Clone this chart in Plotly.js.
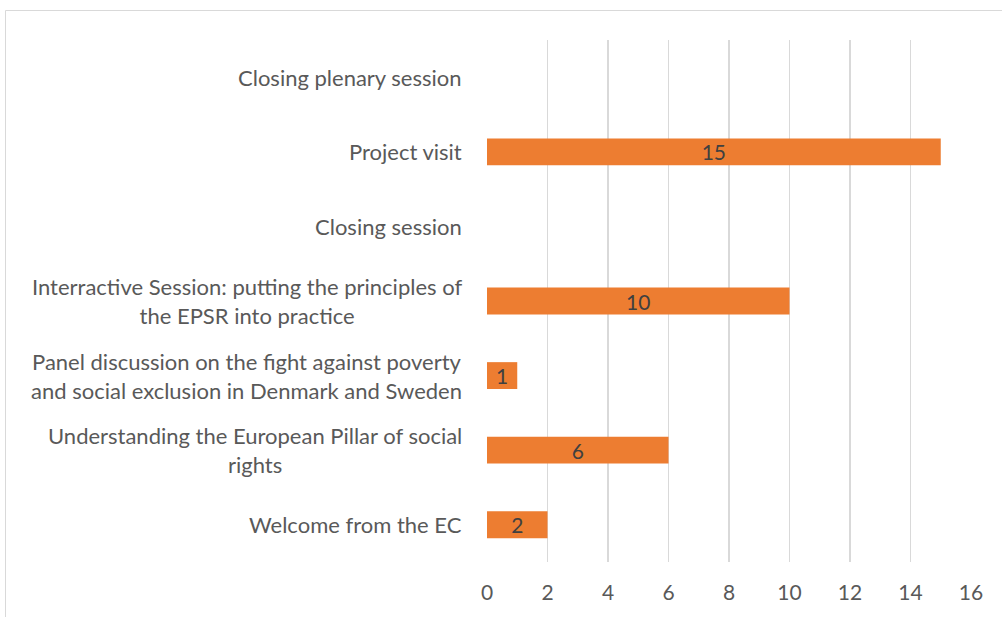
<!DOCTYPE html>
<html>
<head>
<meta charset="utf-8">
<script src="https://cdn.plot.ly/plotly-3.0.1.min.js"></script>
<style>html,body{margin:0;padding:0;background:#fff;}#chart{width:1002px;height:617px;}</style>
</head>
<body>
<div id="chart"></div>
<script>
const categories = [
  "Welcome from the EC",
  "Understanding the European Pillar of social<br>rights",
  "Panel discussion on the fight against poverty<br>and social exclusion in Denmark and Sweden",
  "Interractive Session: putting the principles of<br>the EPSR into practice",
  "Closing session",
  "Project visit",
  "Closing plenary session"
];
const values = [2, 6, 1, 10, null, 15, null];
const xTicks = [0, 2, 4, 6, 8, 10, 12, 14, 16];

const FONT = "Lato, 'Open Sans', sans-serif";
const trace = {
  type: "bar",
  orientation: "h",
  x: values,
  y: categories,
  marker: {color: "#ED7D31"},
  text: values.map(v => v === null ? "" : String(v)),
  textposition: "inside",
  insidetextanchor: "middle",
  textangle: 0,
  constraintext: "none",
  textfont: {family: FONT, size: 21, color: "#404040"},
  hoverinfo: "none"
};

const annotations = categories.map(c => ({
  xref: "paper", yref: "y", x: 0, y: c, xshift: -23,
  xanchor: "right", yanchor: "middle", align: "center",
  text: c, showarrow: false,
  font: {family: FONT, size: 22, color: "#595959"}
}));

const layout = {
  width: 1002, height: 617,
  margin: {l: 487, r: 31, t: 40, b: 55},
  paper_bgcolor: "#ffffff", plot_bgcolor: "#ffffff",
  showlegend: false,
  bargap: 0.64,
  xaxis: {
    range: [0, 16], tickvals: xTicks, ticktext: xTicks.map(String),
    showgrid: true, gridcolor: "#d9d9d9", gridwidth: 1.5,
    zeroline: false, showline: false, ticks: "",
    ticklabelstandoff: 16,
    tickfont: {family: FONT, size: 21, color: "#595959"},
    fixedrange: true
  },
  yaxis: {
    type: "category", categoryorder: "array", categoryarray: categories,
    showticklabels: false, showgrid: false, zeroline: false, showline: false, ticks: "",
    fixedrange: true
  },
  annotations: annotations,
  shapes: [{
    type: "rect", xref: "paper", yref: "paper",
    x0: (5.5 - 487) / 484, x1: (1010 - 487) / 484,
    y0: (562 - 625) / 522, y1: (562 - 10.5) / 522,
    line: {color: "#d9d9d9", width: 1}, fillcolor: "rgba(0,0,0,0)", layer: "below"
  }]
};

Plotly.newPlot("chart", [trace], layout, {staticPlot: true, displayModeBar: false});
</script>
</body>
</html>
